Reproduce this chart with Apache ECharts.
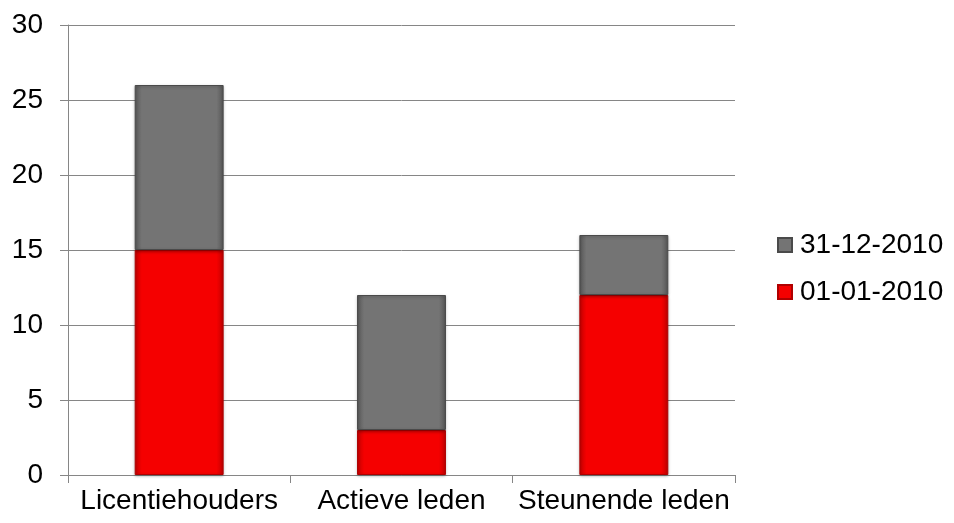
<!DOCTYPE html>
<html>
<head>
<meta charset="utf-8">
<script src="https://cdn.jsdelivr.net/npm/echarts@6/dist/echarts.min.js"></script>
<style>
	html, body { margin: 0; padding: 0; background: #fff; }
	#chart { width: 954px; height: 523px; }
</style>
</head>
<body>
<div id="chart"></div>
<script>
const categories = ["Licentiehouders", "Actieve leden", "Steunende leden"];
const startValues = [15, 3, 12]; // 01-01-2010
const endValues = [11, 9, 4]; // 31-12-2010 (stacked on top)
const seriesNames = ["01-01-2010", "31-12-2010"];

const chart = echarts.init(document.getElementById("chart"));

// fake bevel: darker sides, flat middle
function bevel(edge, mid) {
	return new echarts.graphic.LinearGradient(0, 0, 1, 0, [
		{ offset: 0, color: edge },
		{ offset: 0.08, color: mid },
		{ offset: 0.92, color: mid },
		{ offset: 1, color: edge }
	]);
}

const font = "Liberation Sans, Arial, sans-serif";

const option = {
	animation: false,
	textStyle: { fontFamily: font },
	grid: { left: 68, right: 219, top: 25, bottom: 48, containLabel: false },
	legend: {
		orient: "vertical",
		left: 772,
		top: 226,
		itemGap: 19,
		itemWidth: 14,
		itemHeight: 14,
		icon: "rect",
		textStyle: { fontSize: 28, color: "#000", fontFamily: font, padding: [0, 0, 0, 3] },
		data: [seriesNames[1], seriesNames[0]]
	},
	xAxis: {
		type: "category",
		data: categories,
		axisLine: { lineStyle: { color: "#868686", width: 1 } },
		axisTick: { show: true, length: 8, lineStyle: { color: "#868686" } },
		axisLabel: { fontSize: 28, color: "#000", margin: 12, interval: 0, hideOverlap: false }
	},
	yAxis: {
		type: "value",
		min: 0,
		max: 30,
		interval: 5,
		axisLine: { show: true, lineStyle: { color: "#868686" } },
		axisTick: { show: true, length: 8, lineStyle: { color: "#868686" } },
		axisLabel: { fontSize: 28, color: "#000", margin: 25 },
		splitLine: { lineStyle: { color: "#868686" } }
	},
	series: [
		{
			name: seriesNames[0],
			type: "bar",
			stack: "total",
			barWidth: "40%",
			data: startValues,
			itemStyle: {
				color: bevel("#c40000", "#f50000"),
				borderColor: "#b00000",
				borderWidth: 1,
				shadowColor: "rgba(0,0,0,0.3)",
				shadowBlur: 3,
				shadowOffsetY: 1
			}
		},
		{
			name: seriesNames[1],
			type: "bar",
			stack: "total",
			data: endValues,
			itemStyle: {
				color: bevel("#585858", "#747474"),
				borderColor: "#4a4a4a",
				borderWidth: 1,
				shadowColor: "rgba(0,0,0,0.3)",
				shadowBlur: 3,
				shadowOffsetY: 1
			}
		}
	]
};

chart.setOption(option);
</script>
</body>
</html>
